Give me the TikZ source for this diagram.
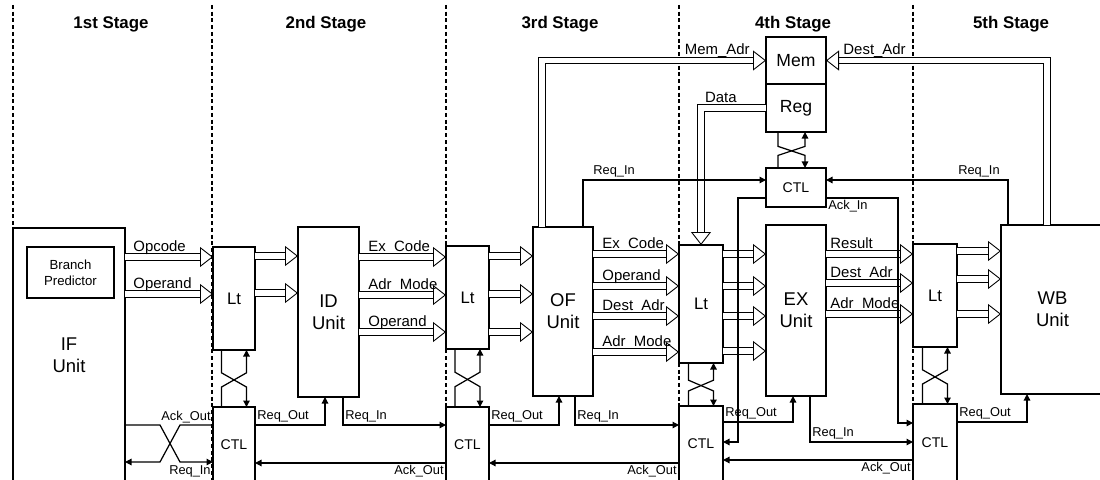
\documentclass[tikz,border=0pt]{standalone}
\usepackage{fontspec}
\setmainfont{Liberation Sans}
\usetikzlibrary{arrows.meta,positioning,calc}

% handshake cross between a latch and its controller
\newcommand{\lthandshake}[4]{%
  \coordinate (hsa) at ([xshift=#3]#1.south);
  \coordinate (hsb) at ([xshift=#3]#2.north);
  \coordinate (hsc) at ([xshift=#4]#1.south);
  \coordinate (hsd) at ([xshift=#4]#2.north);
  \draw[sig] (hsa) -- ($(hsa)!0.4!(hsb)$) -- ($(hsc)!0.65!(hsd)$) -- (hsd);
  \draw[sig] (hsb) -- ($(hsa)!0.65!(hsb)$) -- ($(hsc)!0.4!(hsd)$) -- (hsc);
}

\begin{document}
\begin{tikzpicture}[x=0.2mm,y=-0.2mm]
  \tikzstyle{ubox}=[draw,line width=0.9pt,fill=white,anchor=north west,inner sep=0pt,outer sep=0pt,align=center]
  \tikzstyle{bus}=[line width=0.5pt,double=white,double distance=1.1mm,-{Triangle[open,length=2.6mm,width=4mm,line width=0.5pt]}]
  \tikzstyle{sig}=[line width=0.7pt,-{Triangle[length=1.3mm,width=1.3mm]}]
  \tikzstyle{blbl}=[font=\fontsize{8.5}{9}\selectfont,inner sep=0pt,anchor=base west,yshift=1.1mm]
  \tikzstyle{clbl}=[font=\fontsize{7.3}{8}\selectfont,inner sep=1pt]
  \tikzstyle{stitle}=[font=\fontsize{9.6}{11}\selectfont\bfseries]
  \tikzstyle{stageline}=[line width=1.1pt,dash pattern=on 0.8mm off 0.55mm]
  \useasboundingbox (0,0) rectangle (1100,480);

  % stage borders and titles
  \foreach \x in {13,212,446,679,913}
    \draw[stageline] (\x,5) -- (\x,482);
  \foreach \t/\x/\n in {1st/111/s1,2nd/326/s2,3rd/560/s3,4th/793/s4,5th/1011/s5}
    \node[stitle] (\n) at (\x,24) {\t\ Stage};

  % units
  \node[ubox,minimum width=22.4mm,minimum height=50.8mm,font=\fontsize{10.5}{12.5}\selectfont] (IF) at (13,228) {IF\\Unit};
  \node[ubox,minimum width=17.4mm,minimum height=10.2mm,line width=0.7pt,font=\fontsize{7.5}{9}\selectfont] (BP) at (27,247) {Branch\\Predictor};
  \node[ubox,minimum width=12.2mm,minimum height=34mm,font=\fontsize{10.5}{12.5}\selectfont] (ID) at (298,227) {ID\\Unit};
  \node[ubox,minimum width=12mm,minimum height=33.8mm,font=\fontsize{10.5}{12.5}\selectfont] (OF) at (533,227) {OF\\Unit};
  \node[ubox,minimum width=12mm,minimum height=34.2mm,font=\fontsize{10.5}{12.5}\selectfont] (EX) at (766,225) {EX\\Unit};
  \node[ubox,minimum width=20.6mm,minimum height=33.8mm,font=\fontsize{10.5}{12.5}\selectfont] (WB) at (1001,225) {WB\\Unit};
  \node[ubox,minimum width=12mm,minimum height=9.4mm,font=\fontsize{10}{12}\selectfont] (Mem) at (766,37) {Mem};
  \node[ubox,minimum width=12mm,minimum height=9.6mm,font=\fontsize{10}{12}\selectfont,below=0pt of Mem] (Reg) {Reg};
  \node[ubox,minimum width=12mm,minimum height=7.8mm,font=\fontsize{8}{10}\selectfont] (CTLm) at (766,168) {CTL};

  % latches and controllers
  \node[ubox,minimum width=8.4mm,minimum height=20.6mm,font=\fontsize{9.5}{11}\selectfont] (Lt2) at (213,247) {Lt};
  \node[ubox,minimum width=8.6mm,minimum height=20.6mm,font=\fontsize{9.5}{11}\selectfont] (Lt3) at (446,246) {Lt};
  \node[ubox,minimum width=8.8mm,minimum height=23.6mm,font=\fontsize{9.5}{11}\selectfont] (Lt4) at (679,245) {Lt};
  \node[ubox,minimum width=8.8mm,minimum height=20.6mm,font=\fontsize{9.5}{11}\selectfont] (Lt5) at (913,244) {Lt};
  \node[ubox,minimum width=8.4mm,minimum height=15mm,font=\fontsize{8}{10}\selectfont] (CTL2) at (213,407) {CTL};
  \node[ubox,minimum width=8.6mm,minimum height=15mm,font=\fontsize{8}{10}\selectfont] (CTL3) at (446,407) {CTL};
  \node[ubox,minimum width=8.8mm,minimum height=15.2mm,font=\fontsize{8}{10}\selectfont] (CTL4) at (679,406) {CTL};
  \node[ubox,minimum width=8.8mm,minimum height=15.6mm,font=\fontsize{8}{10}\selectfont] (CTL5) at (913,404) {CTL};

  % data buses
  \draw[bus] (IF.east |- 0,257) -- node[blbl,at start,xshift=1.6mm] {Opcode} (Lt2.west |- 0,257);
  \draw[bus] (IF.east |- 0,294) -- node[blbl,at start,xshift=1.6mm] {Operand} (Lt2.west |- 0,294);
  \foreach \y in {256,293}
    \draw[bus] (Lt2.east |- 0,\y) -- (ID.west |- 0,\y);
  \draw[bus] (ID.east |- 0,257) -- node[blbl,at start,xshift=1.8mm] {Ex\_Code} (Lt3.west |- 0,257);
  \draw[bus] (ID.east |- 0,295) -- node[blbl,at start,xshift=1.8mm] {Adr\_Mode} (Lt3.west |- 0,295);
  \draw[bus] (ID.east |- 0,332) -- node[blbl,at start,xshift=1.8mm] {Operand} (Lt3.west |- 0,332);
  \foreach \y in {256,294,332}
    \draw[bus] (Lt3.east |- 0,\y) -- (OF.west |- 0,\y);
  \draw[bus] (OF.east |- 0,254) -- node[blbl,at start,xshift=1.8mm] {Ex\_Code} (Lt4.west |- 0,254);
  \draw[bus] (OF.east |- 0,286) -- node[blbl,at start,xshift=1.8mm] {Operand} (Lt4.west |- 0,286);
  \draw[bus] (OF.east |- 0,316) -- node[blbl,at start,xshift=1.8mm] {Dest\_Adr} (Lt4.west |- 0,316);
  \draw[bus] (OF.east |- 0,352) -- node[blbl,at start,xshift=1.8mm] {Adr\_Mode} (Lt4.west |- 0,352);
  \foreach \y in {254,286,316,351}
    \draw[bus] (Lt4.east |- 0,\y) -- (EX.west |- 0,\y);
  \draw[bus] (EX.east |- 0,254) -- node[blbl,at start,xshift=0.8mm] {Result} (Lt5.west |- 0,254);
  \draw[bus] (EX.east |- 0,283) -- node[blbl,at start,xshift=0.8mm] {Dest\_Adr} (Lt5.west |- 0,283);
  \draw[bus] (EX.east |- 0,314) -- node[blbl,at start,xshift=0.8mm] {Adr\_Mode} (Lt5.west |- 0,314);
  \foreach \y in {251,279,314}
    \draw[bus] (Lt5.east |- 0,\y) -- (WB.west |- 0,\y);
  \draw[bus] (OF.north -| 542,0) |- node[blbl,at end,anchor=base east,xshift=-3.2mm] {Mem\_Adr} (Mem.west);
  \draw[bus] (WB.north -| 1047,0) |- node[blbl,at end,xshift=3.4mm] {Dest\_Adr} (Mem.east);
  \draw[bus] (Reg.west) -| node[blbl,at start,anchor=base east,xshift=-5.8mm] {Data} (Lt4.north);

  % handshakes
  \foreach \s in {2,3,4,5}{
    \lthandshake{Lt\s}{CTL\s}{-2.5mm}{2.5mm}
  }
  \lthandshake{Reg}{CTLm}{-3.6mm}{1.8mm}

  % control signals
  \draw[sig] (CTL2.west |- 0,425) -- node[clbl,at start,anchor=south east] {Ack\_Out} (180,425) -- (160,462) -- (IF.east |- 0,462);
  \draw[sig] (IF.east |- 0,425) -- (160,425) -- (180,462) -- node[clbl,at end,anchor=north east,yshift=-0.2mm] {Req\_In} (CTL2.west |- 0,462);

  \draw[sig] (CTL2.east |- 0,425) -| node[clbl,at start,anchor=south west] {Req\_Out} (ID.south -| 325,0);
  \draw[sig] (ID.south -| 343,0) |- node[clbl,pos=0.5,anchor=south west] {Req\_In} (CTL3.west |- 0,425);
  \draw[sig] (CTL3.west |- 0,463) -- node[clbl,at start,anchor=north east] {Ack\_Out} (CTL2.east |- 0,463);

  \draw[sig] (CTL3.east |- 0,425) -| node[clbl,at start,anchor=south west] {Req\_Out} (OF.south -| 559,0);
  \draw[sig] (OF.south -| 575,0) |- node[clbl,pos=0.5,anchor=south west] {Req\_In} (CTL4.west |- 0,425);
  \draw[sig] (CTL4.west |- 0,463) -- node[clbl,at start,anchor=north east] {Ack\_Out} (CTL3.east |- 0,463);
  \draw[sig] (OF.north -| 583,0) |- node[clbl,pos=0.5,anchor=south west,xshift=1.6mm] {Req\_In} (CTLm.west |- 0,180);

  \draw[sig] (CTL4.east |- 0,422) -| node[clbl,at start,anchor=south west] {Req\_Out} (EX.south -| 793,0);
  \draw[sig] (EX.south -| 810,0) |- node[clbl,pos=0.5,anchor=south west] {Req\_In} (CTL5.west |- 0,442);
  \draw[sig] (CTL5.west |- 0,460) -- node[clbl,at start,anchor=north east] {Ack\_Out} (CTL4.east |- 0,460);
  \draw[sig] (CTLm.west |- 0,198) -| (738,442) -- (CTL4.east |- 0,442);

  \draw[sig] (CTLm.east |- 0,198) -| node[clbl,at start,anchor=north west] {Ack\_In} (898,423) -- (CTL5.west |- 0,423);
  \draw[sig] (WB.north -| 1008,0) |- node[clbl,pos=0.5,anchor=south east,xshift=-1.2mm] {Req\_In} (CTLm.east |- 0,180);
  \draw[sig] (CTL5.east |- 0,422) -| node[clbl,at start,anchor=south west] {Req\_Out} (WB.south -| 1027,0);
\end{tikzpicture}
\end{document}
